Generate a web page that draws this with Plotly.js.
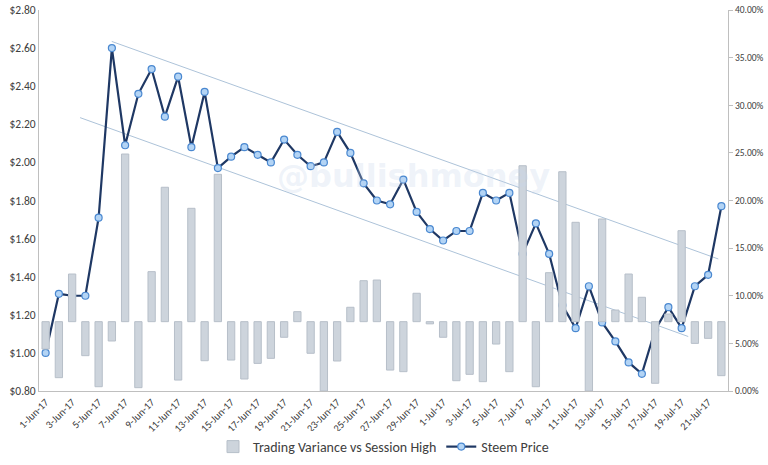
<!DOCTYPE html>
<html>
<head>
<meta charset="utf-8">
<script src="https://cdn.plot.ly/plotly-3.0.1.min.js"></script>
<style>html,body{margin:0;padding:0;background:#fff;}#chart{width:768px;height:465px;}</style>
</head>
<body>
<div id="chart"></div>
<script>
// Dates (1-Jun-17 .. 22-Jul-17)
const dates = ["1-Jun-17","2-Jun-17","3-Jun-17","4-Jun-17","5-Jun-17","6-Jun-17","7-Jun-17","8-Jun-17","9-Jun-17","10-Jun-17",
"11-Jun-17","12-Jun-17","13-Jun-17","14-Jun-17","15-Jun-17","16-Jun-17","17-Jun-17","18-Jun-17","19-Jun-17","20-Jun-17",
"21-Jun-17","22-Jun-17","23-Jun-17","24-Jun-17","25-Jun-17","26-Jun-17","27-Jun-17","28-Jun-17","29-Jun-17","30-Jun-17",
"1-Jul-17","2-Jul-17","3-Jul-17","4-Jul-17","5-Jul-17","6-Jul-17","7-Jul-17","8-Jul-17","9-Jul-17","10-Jul-17",
"11-Jul-17","12-Jul-17","13-Jul-17","14-Jul-17","15-Jul-17","16-Jul-17","17-Jul-17","18-Jul-17","19-Jul-17","20-Jul-17",
"21-Jul-17","22-Jul-17"];

// Steem price ($)
const steemPrice = [1.00,1.31,1.30,1.30,1.71,2.60,2.09,2.36,2.49,2.24,
2.45,2.08,2.37,1.97,2.03,2.08,2.04,2.00,2.12,2.04,
1.98,2.00,2.16,2.05,1.89,1.80,1.78,1.91,1.74,1.65,
1.59,1.64,1.64,1.84,1.80,1.84,1.52,1.68,1.52,1.25,
1.13,1.35,1.16,1.06,0.95,0.89,1.12,1.24,1.13,1.35,
1.41,1.77];

// Trading variance bars: end value on the right (%) axis; bars hang from the baseline
const varianceBase = 7.28;
const varianceEnd = [4.4,1.40,12.28,3.71,0.45,5.25,24.88,0.35,12.53,21.39,
1.15,19.18,3.18,22.75,3.25,1.26,2.9,3.43,5.64,8.33,
3.96,0.0,3.15,8.79,11.58,11.65,2.2,2.03,10.26,7.05,
5.64,1.08,1.75,0.98,4.93,2.03,23.65,0.45,12.42,23.02,
17.71,0.0,18.06,8.5,12.28,9.84,0.81,8.08,16.83,5.0,
5.53,1.61];

// Channel trend lines (index position, price)
const upperTrendX = [4.99, 50.77];
const upperTrendY = [2.635, 1.493];
const lowerTrendX = [2.6, 48.5];
const lowerTrendY = [2.235, 1.086];

const idx = dates.map((d,i)=>i);
const tickIdx = idx.filter(i=>i%2===0);
const tickText = tickIdx.map(i=>dates[i]);

const FONT = "Carlito, Lato, 'Open Sans', sans-serif";

const traces = [
  {
    type:'bar', name:'Trading Variance vs Session High',
    x: idx, y: varianceEnd.map(v=>v-varianceBase), base: varianceBase,
    yaxis:'y2', width:0.55,
    marker:{color:'#cdd4dc', line:{color:'#b7bfc9', width:1}},
    hoverinfo:'skip'
  },
  {
    type:'scatter', mode:'lines', x: upperTrendX, y: upperTrendY,
    line:{color:'#adc3d9', width:1}, showlegend:false, hoverinfo:'skip'
  },
  {
    type:'scatter', mode:'lines', x: lowerTrendX, y: lowerTrendY,
    line:{color:'#adc3d9', width:1}, showlegend:false, hoverinfo:'skip'
  },
  {
    type:'scatter', mode:'lines+markers', name:'Steem Price',
    x: idx, y: steemPrice,
    line:{color:'#1f3864', width:2.2},
    marker:{symbol:'circle', size:7, color:'#b3d4f5', line:{color:'#4a88d0', width:1.2}}
  }
];

const layout = {
  width:768, height:465,
  margin:{l:39, r:40, t:10, b:74, autoexpand:false},
  paper_bgcolor:'#fff', plot_bgcolor:'#fff',
  font:{family:FONT, color:'#404040', size:11},
  showlegend:true,
  legend:{orientation:'h', x:0.5, xanchor:'center', y:-0.147, yanchor:'middle',
          font:{family:FONT, size:14, color:'#404040'}, traceorder:'normal', itemwidth:30},
  bargap:0.45,
  xaxis:{type:'linear', range:[-0.5,51.5], tickmode:'array', tickvals:tickIdx, ticktext:tickText,
         tickangle:-45, showgrid:false, zeroline:false, showline:true, linecolor:'#bfbfbf', linewidth:1,
         ticks:'', tickfont:{size:10.5, color:'#404040'}},
  yaxis:{range:[0.8,2.8], dtick:0.2, tickprefix:'$', tickformat:'.2f', showgrid:false, zeroline:false,
         showline:true, linecolor:'#bfbfbf', linewidth:1, ticks:'', tickfont:{size:11.5, color:'#404040'}},
  yaxis2:{overlaying:'y', side:'right', range:[0,40], dtick:5, tickformat:'.2f', ticksuffix:'%',
          showgrid:false, zeroline:false, showline:true, linecolor:'#bfbfbf', linewidth:1,
          ticks:'outside', ticklen:4, tickcolor:'#bfbfbf', tickfont:{size:9.5, color:'#404040'}},
  annotations:[{
    text:'<b>@bullishmoney</b>', xref:'paper', yref:'paper',
    x:(413-39)/689, y:(391-176)/381, xanchor:'center', yanchor:'middle', showarrow:false,
    font:{family:"'DejaVu Sans', sans-serif", size:32, color:'rgba(200,215,236,0.3)'}
  }]
};

Plotly.newPlot('chart', traces, layout, {displayModeBar:false, staticPlot:true});
</script>
</body>
</html>
